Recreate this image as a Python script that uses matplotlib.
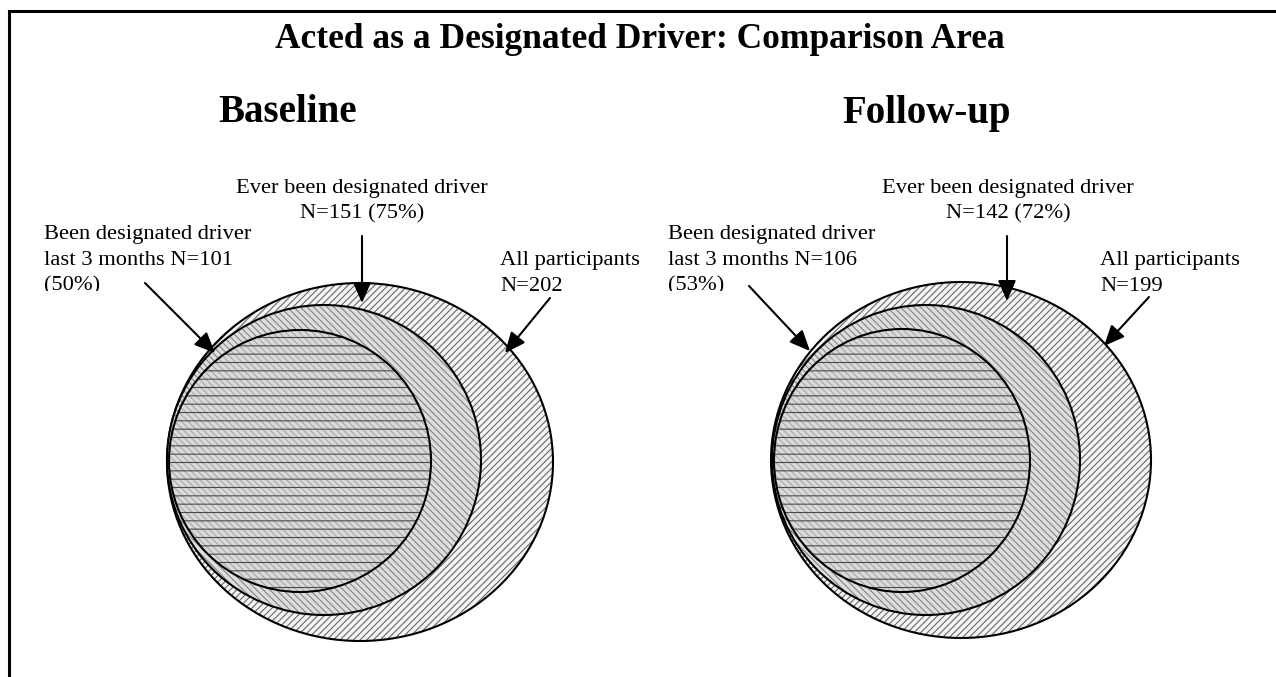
import matplotlib
matplotlib.use("Agg")
import matplotlib.pyplot as plt
from matplotlib.patches import Ellipse
from matplotlib.transforms import Bbox, TransformedBbox

# ---- data ----
groups = ["Baseline", "Follow-up"]
n_all = [202, 199]
n_ever = [151, 142]
pct_ever = [75, 72]
n_last3 = [101, 106]
pct_last3 = [50, 53]
title = "Acted as a Designated Driver: Comparison Area"

# ---- layout (pixel coordinates) ----
W, H = 1276, 677
plt.rcParams["font.family"] = ["Liberation Serif", "DejaVu Serif"]
plt.rcParams["hatch.linewidth"] = 0.8

fig = plt.figure(figsize=(W / 100, H / 100), dpi=100)
ax = fig.add_axes([0, 0, 1, 1])
ax.set_xlim(0, W)
ax.set_ylim(H, 0)
ax.axis("off")

# frame (clipped at right and bottom)
ax.plot([9, 9, W + 5], [H + 5, 11, 11], color="black", lw=2.2, solid_joinstyle="miter")

ax.text(640, 40, title, ha="center", va="center", fontsize=25.5, fontweight="bold")

# per-group geometry: (cx, cy, rx, ry) for all / ever / last3
geom = [
    {"all": (360, 462, 193, 179), "ever": (324, 460, 157, 155), "last": (300, 461, 131, 131),
     "head": (288, 113),
     "ever_lbl": (362, 188), "ever_arrow": ((362, 236), (362, 303)),
     "last_lbl": (44, 235), "last_arrow": ((145, 283), (215, 353)),
     "all_lbl": (500, 261), "all_arrow": ((550, 298), (505, 353))},
    {"all": (961, 460, 190, 178), "ever": (926, 460, 154, 155), "last": (902, 460.5, 128, 131.5),
     "head": (927, 113),
     "ever_lbl": (1008, 188), "ever_arrow": ((1007, 236), (1007, 301)),
     "last_lbl": (668, 235), "last_arrow": ((749, 286), (810, 351)),
     "all_lbl": (1100, 261), "all_arrow": ((1149, 297), (1104, 346))},
]

lab_fs = 16.2
line_h = 25.5


def ring(c, face, hcol, hatch, z, hcol2=None, hatch2=None):
    cx, cy, rx, ry = c
    ax.add_patch(Ellipse((cx, cy), 2 * rx, 2 * ry, facecolor=face, edgecolor=hcol,
                         lw=0, hatch=hatch, zorder=z))
    if hatch2:
        ax.add_patch(Ellipse((cx, cy), 2 * rx, 2 * ry, fill=False, edgecolor=hcol2,
                             lw=0, hatch=hatch2, zorder=z + 0.1))
    ax.add_patch(Ellipse((cx, cy), 2 * rx, 2 * ry, fill=False, edgecolor="black",
                         lw=1.5, zorder=z + 0.2))


def arrow(p0, p1):
    ax.annotate("", xy=p1, xytext=p0,
                arrowprops=dict(arrowstyle="-|>,head_length=1.25,head_width=0.55",
                                color="black", lw=1.5, shrinkA=0, shrinkB=0), zorder=10)


for i, g in enumerate(geom):
    ring(g["all"], "#f4f4f4", "#666666", "/////", 1)
    ring(g["ever"], "#dedede", "#848484", "\\\\\\\\\\", 2)
    ring(g["last"], "#dadada", "#a8a8a8", "\\\\\\\\\\", 3, hcol2="#4a4a4a", hatch2="--")

    hx, hy = g["head"]
    ax.text(hx, hy, groups[i], ha="center", va="center", fontsize=28, fontweight="bold")

    ex, ey = g["ever_lbl"]
    ax.text(ex, ey, "Ever been designated driver", ha="center", va="center", fontsize=lab_fs)
    ax.text(ex, ey + 26, f"N={n_ever[i]} ({pct_ever[i]}%)", ha="center", va="center", fontsize=lab_fs)
    arrow(*g["ever_arrow"])

    lx, ly = g["last_lbl"]
    ax.text(lx, ly, "Been designated driver", ha="left", va="center", fontsize=lab_fs)
    ax.text(lx, ly + line_h, f"last 3 months N={n_last3[i]}", ha="left", va="center", fontsize=lab_fs)
    t = ax.text(lx, ly + 2 * line_h, f"({pct_last3[i]}%)", ha="left", va="center", fontsize=lab_fs)
    t.set_clip_box(TransformedBbox(Bbox([[0, 0], [W, 291]]), ax.transData))
    t.set_clip_on(True)
    arrow(*g["last_arrow"])

    ax_, ay_ = g["all_lbl"]
    ax.text(ax_, ay_, "All participants", ha="left", va="center", fontsize=lab_fs)
    ax.text(ax_, ay_ + line_h, f"N={n_all[i]}", ha="left", va="center", fontsize=lab_fs)
    arrow(*g["all_arrow"])

fig.savefig("out.png", dpi=100)
